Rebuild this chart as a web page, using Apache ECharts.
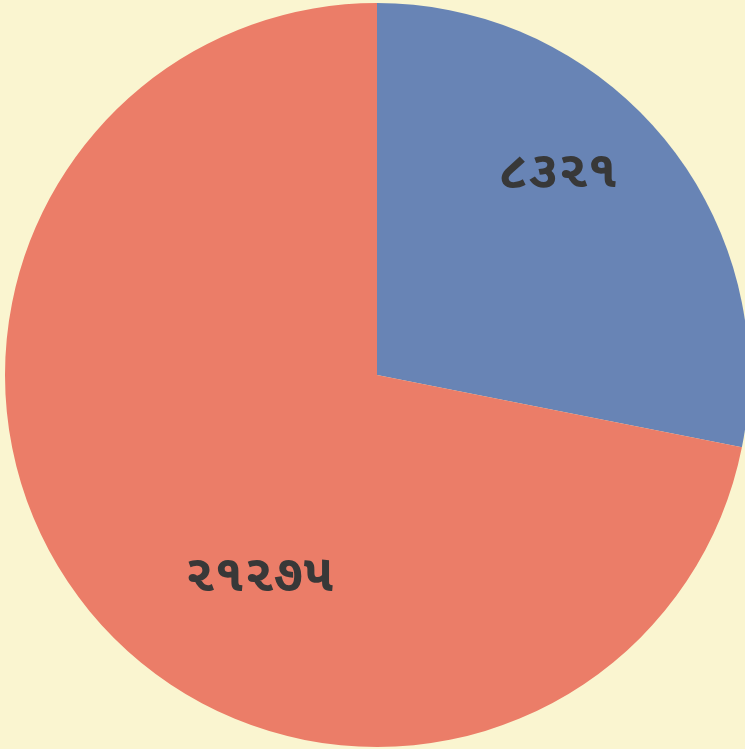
<!DOCTYPE html>
<html>
<head>
<meta charset="utf-8">
<script src="https://cdn.jsdelivr.net/npm/echarts@6/dist/echarts.min.js"></script>
<style>
  html, body { margin: 0; padding: 0; background: #faf5d0; }
  #chart { width: 745px; height: 749px; }
</style>
</head>
<body>
<div id="chart"></div>
<script>
// slices, clockwise from 12 o'clock
const names = ['blue', 'red']
const values = [8321, 21275]
const labels = ['૮૩૨૧', '૨૧૨૭૫']
const colors = ['#6884b5', '#eb7d68']

// labels are hand-placed in the original, nudge them off the midpoint
const labelOffsets = [[35, -78], [28, 86]]

const chart = echarts.init(document.getElementById('chart'))
chart.setOption({
  backgroundColor: '#faf5d0',
  animation: false,
  series: [
    {
      type: 'pie',
      center: [377, 375],
      radius: 372,
      startAngle: 90,
      clockwise: true,
      silent: true,
      label: {
        show: true,
        position: 'inside',
        color: '#383838',
        fontSize: 52,
        fontWeight: 'bold',
        fontFamily: '"Noto Sans Gujarati", "Noto Sans", sans-serif',
        formatter: (p) => labels[p.dataIndex]
      },
      labelLine: { show: false },
      itemStyle: { borderWidth: 0 },
      data: values.map((v, i) => ({
        name: names[i],
        value: v,
        itemStyle: { color: colors[i] },
        label: { offset: labelOffsets[i] }
      }))
    }
  ]
})
</script>
</body>
</html>
